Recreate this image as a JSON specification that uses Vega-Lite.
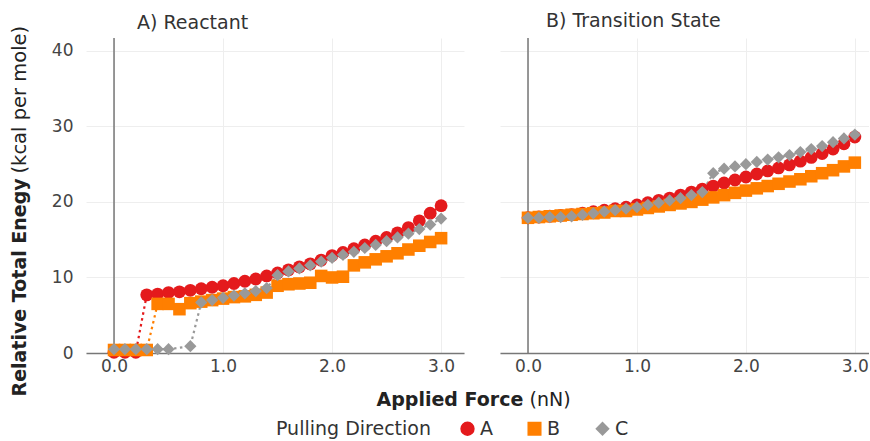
{
  "$schema": "https://vega.github.io/schema/vega-lite/v6.json",
  "padding": {"left": 9, "top": 12, "right": 0, "bottom": 0},
  "config": {
    "view": {"stroke": null},
    "font": "DejaVu Sans",
    "axis": {"labelFont": "DejaVu Sans", "labelFontSize": 17, "labelColor": "#444", "titleFont": "DejaVu Sans", "titleFontSize": 19, "titleColor": "#222", "titleFontWeight": "normal", "gridColor": "#eeeeee", "gridWidth": 1, "ticks": false, "domain": false},
    "legend": {"labelFont": "DejaVu Sans", "labelFontSize": 19, "labelColor": "#333", "titleFont": "DejaVu Sans", "titleFontSize": 19, "titleColor": "#333", "titleFontWeight": "normal", "symbolSize": 140, "columnPadding": 32, "titlePadding": 27, "labelOffset": 3}
  },
  "datasets": {
    "pts": [
      {"panel": "R", "force": 0.0, "energy": 0.1, "direction": "A"},
      {"panel": "R", "force": 0.1, "energy": 0.1, "direction": "A"},
      {"panel": "R", "force": 0.2, "energy": 0.1, "direction": "A"},
      {"panel": "R", "force": 0.3, "energy": 7.7, "direction": "A"},
      {"panel": "R", "force": 0.4, "energy": 7.8, "direction": "A"},
      {"panel": "R", "force": 0.5, "energy": 8.0, "direction": "A"},
      {"panel": "R", "force": 0.6, "energy": 8.1, "direction": "A"},
      {"panel": "R", "force": 0.7, "energy": 8.3, "direction": "A"},
      {"panel": "R", "force": 0.8, "energy": 8.5, "direction": "A"},
      {"panel": "R", "force": 0.9, "energy": 8.7, "direction": "A"},
      {"panel": "R", "force": 1.0, "energy": 8.9, "direction": "A"},
      {"panel": "R", "force": 1.1, "energy": 9.2, "direction": "A"},
      {"panel": "R", "force": 1.2, "energy": 9.5, "direction": "A"},
      {"panel": "R", "force": 1.3, "energy": 9.8, "direction": "A"},
      {"panel": "R", "force": 1.4, "energy": 10.2, "direction": "A"},
      {"panel": "R", "force": 1.5, "energy": 10.6, "direction": "A"},
      {"panel": "R", "force": 1.6, "energy": 11.0, "direction": "A"},
      {"panel": "R", "force": 1.7, "energy": 11.4, "direction": "A"},
      {"panel": "R", "force": 1.8, "energy": 11.8, "direction": "A"},
      {"panel": "R", "force": 1.9, "energy": 12.3, "direction": "A"},
      {"panel": "R", "force": 2.0, "energy": 12.9, "direction": "A"},
      {"panel": "R", "force": 2.1, "energy": 13.3, "direction": "A"},
      {"panel": "R", "force": 2.2, "energy": 13.8, "direction": "A"},
      {"panel": "R", "force": 2.3, "energy": 14.3, "direction": "A"},
      {"panel": "R", "force": 2.4, "energy": 14.8, "direction": "A"},
      {"panel": "R", "force": 2.5, "energy": 15.3, "direction": "A"},
      {"panel": "R", "force": 2.6, "energy": 15.9, "direction": "A"},
      {"panel": "R", "force": 2.7, "energy": 16.6, "direction": "A"},
      {"panel": "R", "force": 2.8, "energy": 17.5, "direction": "A"},
      {"panel": "R", "force": 2.9, "energy": 18.5, "direction": "A"},
      {"panel": "R", "force": 3.0, "energy": 19.5, "direction": "A"},
      {"panel": "R", "force": 0.0, "energy": 0.4, "direction": "B"},
      {"panel": "R", "force": 0.1, "energy": 0.4, "direction": "B"},
      {"panel": "R", "force": 0.2, "energy": 0.4, "direction": "B"},
      {"panel": "R", "force": 0.3, "energy": 0.4, "direction": "B"},
      {"panel": "R", "force": 0.4, "energy": 6.5, "direction": "B"},
      {"panel": "R", "force": 0.5, "energy": 6.5, "direction": "B"},
      {"panel": "R", "force": 0.6, "energy": 5.8, "direction": "B"},
      {"panel": "R", "force": 0.7, "energy": 6.6, "direction": "B"},
      {"panel": "R", "force": 0.8, "energy": 6.8, "direction": "B"},
      {"panel": "R", "force": 0.9, "energy": 7.0, "direction": "B"},
      {"panel": "R", "force": 1.0, "energy": 7.2, "direction": "B"},
      {"panel": "R", "force": 1.1, "energy": 7.4, "direction": "B"},
      {"panel": "R", "force": 1.2, "energy": 7.5, "direction": "B"},
      {"panel": "R", "force": 1.3, "energy": 7.7, "direction": "B"},
      {"panel": "R", "force": 1.4, "energy": 8.0, "direction": "B"},
      {"panel": "R", "force": 1.5, "energy": 8.9, "direction": "B"},
      {"panel": "R", "force": 1.6, "energy": 9.1, "direction": "B"},
      {"panel": "R", "force": 1.7, "energy": 9.2, "direction": "B"},
      {"panel": "R", "force": 1.8, "energy": 9.3, "direction": "B"},
      {"panel": "R", "force": 1.9, "energy": 10.2, "direction": "B"},
      {"panel": "R", "force": 2.0, "energy": 10.0, "direction": "B"},
      {"panel": "R", "force": 2.1, "energy": 10.1, "direction": "B"},
      {"panel": "R", "force": 2.2, "energy": 11.6, "direction": "B"},
      {"panel": "R", "force": 2.3, "energy": 12.0, "direction": "B"},
      {"panel": "R", "force": 2.4, "energy": 12.4, "direction": "B"},
      {"panel": "R", "force": 2.5, "energy": 12.8, "direction": "B"},
      {"panel": "R", "force": 2.6, "energy": 13.2, "direction": "B"},
      {"panel": "R", "force": 2.7, "energy": 13.7, "direction": "B"},
      {"panel": "R", "force": 2.8, "energy": 14.2, "direction": "B"},
      {"panel": "R", "force": 2.9, "energy": 14.7, "direction": "B"},
      {"panel": "R", "force": 3.0, "energy": 15.2, "direction": "B"},
      {"panel": "R", "force": 0.0, "energy": 0.5, "direction": "C"},
      {"panel": "R", "force": 0.1, "energy": 0.5, "direction": "C"},
      {"panel": "R", "force": 0.2, "energy": 0.5, "direction": "C"},
      {"panel": "R", "force": 0.3, "energy": 0.5, "direction": "C"},
      {"panel": "R", "force": 0.4, "energy": 0.5, "direction": "C"},
      {"panel": "R", "force": 0.5, "energy": 0.5, "direction": "C"},
      {"panel": "R", "force": 0.7, "energy": 0.9, "direction": "C"},
      {"panel": "R", "force": 0.8, "energy": 6.7, "direction": "C"},
      {"panel": "R", "force": 0.9, "energy": 7.0, "direction": "C"},
      {"panel": "R", "force": 1.0, "energy": 7.3, "direction": "C"},
      {"panel": "R", "force": 1.1, "energy": 7.6, "direction": "C"},
      {"panel": "R", "force": 1.2, "energy": 7.9, "direction": "C"},
      {"panel": "R", "force": 1.3, "energy": 8.2, "direction": "C"},
      {"panel": "R", "force": 1.4, "energy": 8.6, "direction": "C"},
      {"panel": "R", "force": 1.5, "energy": 10.3, "direction": "C"},
      {"panel": "R", "force": 1.6, "energy": 10.8, "direction": "C"},
      {"panel": "R", "force": 1.7, "energy": 11.2, "direction": "C"},
      {"panel": "R", "force": 1.8, "energy": 11.6, "direction": "C"},
      {"panel": "R", "force": 1.9, "energy": 12.1, "direction": "C"},
      {"panel": "R", "force": 2.0, "energy": 12.6, "direction": "C"},
      {"panel": "R", "force": 2.1, "energy": 13.0, "direction": "C"},
      {"panel": "R", "force": 2.2, "energy": 13.4, "direction": "C"},
      {"panel": "R", "force": 2.3, "energy": 13.9, "direction": "C"},
      {"panel": "R", "force": 2.4, "energy": 14.3, "direction": "C"},
      {"panel": "R", "force": 2.5, "energy": 14.8, "direction": "C"},
      {"panel": "R", "force": 2.6, "energy": 15.3, "direction": "C"},
      {"panel": "R", "force": 2.7, "energy": 15.8, "direction": "C"},
      {"panel": "R", "force": 2.8, "energy": 16.4, "direction": "C"},
      {"panel": "R", "force": 2.9, "energy": 17.0, "direction": "C"},
      {"panel": "R", "force": 3.0, "energy": 17.8, "direction": "C"},
      {"panel": "T", "force": 0.0, "energy": 17.9, "direction": "A"},
      {"panel": "T", "force": 0.1, "energy": 18.0, "direction": "A"},
      {"panel": "T", "force": 0.2, "energy": 18.1, "direction": "A"},
      {"panel": "T", "force": 0.3, "energy": 18.2, "direction": "A"},
      {"panel": "T", "force": 0.4, "energy": 18.3, "direction": "A"},
      {"panel": "T", "force": 0.5, "energy": 18.5, "direction": "A"},
      {"panel": "T", "force": 0.6, "energy": 18.7, "direction": "A"},
      {"panel": "T", "force": 0.7, "energy": 18.9, "direction": "A"},
      {"panel": "T", "force": 0.8, "energy": 19.1, "direction": "A"},
      {"panel": "T", "force": 0.9, "energy": 19.3, "direction": "A"},
      {"panel": "T", "force": 1.0, "energy": 19.6, "direction": "A"},
      {"panel": "T", "force": 1.1, "energy": 19.9, "direction": "A"},
      {"panel": "T", "force": 1.2, "energy": 20.2, "direction": "A"},
      {"panel": "T", "force": 1.3, "energy": 20.5, "direction": "A"},
      {"panel": "T", "force": 1.4, "energy": 20.9, "direction": "A"},
      {"panel": "T", "force": 1.5, "energy": 21.3, "direction": "A"},
      {"panel": "T", "force": 1.6, "energy": 21.7, "direction": "A"},
      {"panel": "T", "force": 1.7, "energy": 22.1, "direction": "A"},
      {"panel": "T", "force": 1.8, "energy": 22.5, "direction": "A"},
      {"panel": "T", "force": 1.9, "energy": 22.9, "direction": "A"},
      {"panel": "T", "force": 2.0, "energy": 23.3, "direction": "A"},
      {"panel": "T", "force": 2.1, "energy": 23.7, "direction": "A"},
      {"panel": "T", "force": 2.2, "energy": 24.1, "direction": "A"},
      {"panel": "T", "force": 2.3, "energy": 24.5, "direction": "A"},
      {"panel": "T", "force": 2.4, "energy": 24.9, "direction": "A"},
      {"panel": "T", "force": 2.5, "energy": 25.4, "direction": "A"},
      {"panel": "T", "force": 2.6, "energy": 25.9, "direction": "A"},
      {"panel": "T", "force": 2.7, "energy": 26.4, "direction": "A"},
      {"panel": "T", "force": 2.8, "energy": 27.0, "direction": "A"},
      {"panel": "T", "force": 2.9, "energy": 27.7, "direction": "A"},
      {"panel": "T", "force": 3.0, "energy": 28.6, "direction": "A"},
      {"panel": "T", "force": 0.0, "energy": 17.9, "direction": "B"},
      {"panel": "T", "force": 0.1, "energy": 18.0, "direction": "B"},
      {"panel": "T", "force": 0.2, "energy": 18.1, "direction": "B"},
      {"panel": "T", "force": 0.3, "energy": 18.2, "direction": "B"},
      {"panel": "T", "force": 0.4, "energy": 18.3, "direction": "B"},
      {"panel": "T", "force": 0.5, "energy": 18.4, "direction": "B"},
      {"panel": "T", "force": 0.6, "energy": 18.5, "direction": "B"},
      {"panel": "T", "force": 0.7, "energy": 18.6, "direction": "B"},
      {"panel": "T", "force": 0.8, "energy": 18.8, "direction": "B"},
      {"panel": "T", "force": 0.9, "energy": 18.8, "direction": "B"},
      {"panel": "T", "force": 1.0, "energy": 19.0, "direction": "B"},
      {"panel": "T", "force": 1.1, "energy": 19.2, "direction": "B"},
      {"panel": "T", "force": 1.2, "energy": 19.4, "direction": "B"},
      {"panel": "T", "force": 1.3, "energy": 19.6, "direction": "B"},
      {"panel": "T", "force": 1.4, "energy": 19.8, "direction": "B"},
      {"panel": "T", "force": 1.5, "energy": 20.0, "direction": "B"},
      {"panel": "T", "force": 1.6, "energy": 20.3, "direction": "B"},
      {"panel": "T", "force": 1.7, "energy": 20.6, "direction": "B"},
      {"panel": "T", "force": 1.8, "energy": 20.9, "direction": "B"},
      {"panel": "T", "force": 1.9, "energy": 21.2, "direction": "B"},
      {"panel": "T", "force": 2.0, "energy": 21.5, "direction": "B"},
      {"panel": "T", "force": 2.1, "energy": 21.8, "direction": "B"},
      {"panel": "T", "force": 2.2, "energy": 22.1, "direction": "B"},
      {"panel": "T", "force": 2.3, "energy": 22.4, "direction": "B"},
      {"panel": "T", "force": 2.4, "energy": 22.7, "direction": "B"},
      {"panel": "T", "force": 2.5, "energy": 23.0, "direction": "B"},
      {"panel": "T", "force": 2.6, "energy": 23.4, "direction": "B"},
      {"panel": "T", "force": 2.7, "energy": 23.8, "direction": "B"},
      {"panel": "T", "force": 2.8, "energy": 24.2, "direction": "B"},
      {"panel": "T", "force": 2.9, "energy": 24.7, "direction": "B"},
      {"panel": "T", "force": 3.0, "energy": 25.2, "direction": "B"},
      {"panel": "T", "force": 0.0, "energy": 17.9, "direction": "C"},
      {"panel": "T", "force": 0.1, "energy": 17.9, "direction": "C"},
      {"panel": "T", "force": 0.2, "energy": 18.0, "direction": "C"},
      {"panel": "T", "force": 0.3, "energy": 18.0, "direction": "C"},
      {"panel": "T", "force": 0.4, "energy": 18.1, "direction": "C"},
      {"panel": "T", "force": 0.5, "energy": 18.3, "direction": "C"},
      {"panel": "T", "force": 0.6, "energy": 18.5, "direction": "C"},
      {"panel": "T", "force": 0.7, "energy": 18.7, "direction": "C"},
      {"panel": "T", "force": 0.8, "energy": 18.9, "direction": "C"},
      {"panel": "T", "force": 0.9, "energy": 19.1, "direction": "C"},
      {"panel": "T", "force": 1.0, "energy": 19.3, "direction": "C"},
      {"panel": "T", "force": 1.1, "energy": 19.6, "direction": "C"},
      {"panel": "T", "force": 1.2, "energy": 19.9, "direction": "C"},
      {"panel": "T", "force": 1.3, "energy": 20.2, "direction": "C"},
      {"panel": "T", "force": 1.4, "energy": 20.5, "direction": "C"},
      {"panel": "T", "force": 1.5, "energy": 20.9, "direction": "C"},
      {"panel": "T", "force": 1.6, "energy": 21.3, "direction": "C"},
      {"panel": "T", "force": 1.7, "energy": 23.8, "direction": "C"},
      {"panel": "T", "force": 1.8, "energy": 24.4, "direction": "C"},
      {"panel": "T", "force": 1.9, "energy": 24.7, "direction": "C"},
      {"panel": "T", "force": 2.0, "energy": 25.0, "direction": "C"},
      {"panel": "T", "force": 2.1, "energy": 25.3, "direction": "C"},
      {"panel": "T", "force": 2.2, "energy": 25.6, "direction": "C"},
      {"panel": "T", "force": 2.3, "energy": 25.9, "direction": "C"},
      {"panel": "T", "force": 2.4, "energy": 26.2, "direction": "C"},
      {"panel": "T", "force": 2.5, "energy": 26.6, "direction": "C"},
      {"panel": "T", "force": 2.6, "energy": 27.0, "direction": "C"},
      {"panel": "T", "force": 2.7, "energy": 27.4, "direction": "C"},
      {"panel": "T", "force": 2.8, "energy": 27.9, "direction": "C"},
      {"panel": "T", "force": 2.9, "energy": 28.4, "direction": "C"},
      {"panel": "T", "force": 3.0, "energy": 28.9, "direction": "C"}
    ],
    "zero": [{"force": 0}]
  },
  "spacing": 36,
  "bounds": "flush",
  "hconcat": [
    {
      "width": 378,
      "height": 315,
      "title": {"text": "A) Reactant", "anchor": "start", "frame": "group", "dx": 51, "offset": -8, "fontSize": 19, "fontWeight": "normal", "color": "#333", "font": "DejaVu Sans"},
      "layer": [
        {
          "data": {"name": "zero"},
          "mark": {"type": "rule", "color": "#777", "strokeWidth": 1.5},
          "encoding": {"x": {"field": "force", "type": "quantitative"}}
        },
        {
          "data": {"name": "pts"},
          "transform": [{"filter": "datum.panel === 'R'"}],
          "mark": {"type": "line", "strokeDash": [2.5, 3.5], "strokeWidth": 2.2},
          "encoding": {
            "x": {"field": "force", "type": "quantitative", "scale": {"domain": [-0.257, 3.21], "nice": false, "zero": false}, "axis": {"values": [0, 1, 2, 3], "format": ".1f", "labelPadding": 5, "domain": true, "domainColor": "#777", "domainWidth": 1.5, "grid": true, "title": null}},
            "y": {"field": "energy", "type": "quantitative", "scale": {"domain": [0, 41.7], "nice": false}, "axis": {"orient": "left", "labels": false, "grid": false, "title": "(kcal per mole)", "titleFontSize": 19.5, "titleAngle": -90, "titleAlign": "left", "titleBaseline": "middle", "titleX": -67, "titleY": 135}},
            "color": {"field": "direction", "type": "nominal", "scale": {"domain": ["A", "B", "C"], "range": ["#e41a1c", "#ff7f00", "#999999"]}, "title": "Pulling Direction", "legend": {"orient": "none", "legendX": 190, "legendY": 381, "direction": "horizontal", "titleOrient": "left"}}
          }
        },
        {
          "data": {"name": "pts"},
          "transform": [{"filter": "datum.panel === 'R'"}],
          "mark": {"type": "point", "filled": true, "opacity": 1},
          "encoding": {
            "x": {"field": "force", "type": "quantitative"},
            "y": {"field": "energy", "type": "quantitative", "axis": {"orient": "left", "values": [0, 10, 20, 30, 40], "labelPadding": 13, "grid": true, "title": "Relative Total Enegy", "titleFontSize": 19, "titleFontWeight": "bold", "titleAngle": -90, "titleAlign": "left", "titleBaseline": "middle", "titleX": -67, "titleY": 358}},
            "color": {"field": "direction", "type": "nominal", "title": "Pulling Direction", "legend": {"orient": "none", "legendX": 190, "legendY": 381, "direction": "horizontal", "titleOrient": "left"}},
            "shape": {"field": "direction", "type": "nominal", "scale": {"domain": ["A", "B", "C"], "range": ["circle", "square", "diamond"]}, "title": "Pulling Direction", "legend": {"orient": "none", "legendX": 190, "legendY": 381, "direction": "horizontal", "titleOrient": "left"}},
            "size": {"field": "direction", "type": "nominal", "scale": {"domain": ["A", "B", "C"], "range": [165, 150, 290]}, "legend": null}
          }
        }
      ],
      "resolve": {"axis": {"y": "independent"}}
    },
    {
      "width": 369,
      "height": 315,
      "title": {"text": "B) Transition State", "anchor": "start", "frame": "group", "dx": 46, "offset": 6, "fontSize": 19, "fontWeight": "normal", "color": "#333", "font": "DejaVu Sans"},
      "layer": [
        {
          "data": {"name": "zero"},
          "mark": {"type": "rule", "color": "#777", "strokeWidth": 1.5},
          "encoding": {"x": {"field": "force", "type": "quantitative", "scale": {"domain": [-0.257, 3.13], "nice": false, "zero": false}, "axis": null}}
        },
        {
          "data": {"name": "pts"},
          "transform": [{"filter": "datum.panel === 'T'"}],
          "mark": {"type": "line", "strokeDash": [2.5, 3.5], "strokeWidth": 2.2},
          "encoding": {
            "x": {"field": "force", "type": "quantitative", "axis": {"orient": "bottom", "labels": false, "grid": false, "domain": false, "title": "(nN)", "titleFontSize": 19, "titleAlign": "left", "titleBaseline": "middle", "titleX": 29, "titleY": 46}},
            "y": {"field": "energy", "type": "quantitative", "scale": {"domain": [0, 41.7], "nice": false}, "axis": {"values": [0, 10, 20, 30, 40], "labels": false, "grid": true, "title": null}},
            "color": {"field": "direction", "type": "nominal", "title": "Pulling Direction"}
          }
        },
        {
          "data": {"name": "pts"},
          "transform": [{"filter": "datum.panel === 'T'"}],
          "mark": {"type": "point", "filled": true, "opacity": 1},
          "encoding": {
            "x": {"field": "force", "type": "quantitative", "axis": {"orient": "bottom", "values": [0, 1, 2, 3], "format": ".1f", "labelPadding": 5, "domain": true, "domainColor": "#777", "domainWidth": 1.5, "grid": true, "title": "Applied Force", "titleFontSize": 19, "titleFontWeight": "bold", "titleAlign": "left", "titleBaseline": "middle", "titleX": -124, "titleY": 46}},
            "y": {"field": "energy", "type": "quantitative"},
            "color": {"field": "direction", "type": "nominal", "title": "Pulling Direction"},
            "shape": {"field": "direction", "type": "nominal", "title": "Pulling Direction"},
            "size": {"field": "direction", "type": "nominal", "legend": null}
          }
        }
      ],
      "resolve": {"axis": {"x": "independent"}}
    }
  ],
  "resolve": {"scale": {"color": "shared", "shape": "shared", "size": "shared"}}
}
